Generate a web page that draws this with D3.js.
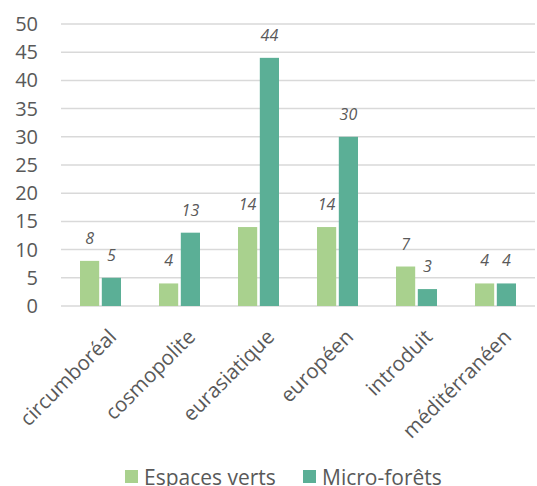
<!DOCTYPE html>
<html>
<head>
<meta charset="utf-8">
<script src="https://cdn.jsdelivr.net/npm/d3@7"></script>
<style>
  body { margin: 0; background: #fff; }
  svg { display: block; font-family: "Open Sans", sans-serif; }
</style>
</head>
<body>
<svg id="chart"></svg>
<script>
// data
const categories = ["circumboréal", "cosmopolite", "eurasiatique", "européen", "introduit", "méditérranéen"];
const seriesNames = ["Espaces verts", "Micro-forêts"];
const espacesVerts = [8, 4, 14, 14, 7, 4];
const microForets = [5, 13, 44, 30, 3, 4];
const yTicks = [0, 5, 10, 15, 20, 25, 30, 35, 40, 45, 50];
const colors = ["#a9d18e", "#5baf96"];

const W = 537, H = 486;
const margin = { top: 24, right: 2, bottom: 180, left: 61 };
const width = W - margin.left - margin.right,
    height = H - margin.top - margin.bottom;

const svg = d3.select("#chart")
    .attr("width", W)
    .attr("height", H);

const g = svg.append("g")
    .attr("transform", `translate(${margin.left},${margin.top})`);

const x = d3.scaleBand()
    .domain(categories)
    .range([0, width]);

const x1 = d3.scaleBand()
    .domain(seriesNames)
    .range([x.bandwidth() / 2 - 20.5, x.bandwidth() / 2 + 20.5])
    .paddingInner(0.12);

const y = d3.scaleLinear()
    .domain([0, 50])
    .range([height, 0]);

// gridlines
g.append("g")
    .selectAll("line")
    .data(yTicks)
    .join("line")
    .attr("x1", 0)
    .attr("x2", width)
    .attr("y1", d => y(d))
    .attr("y2", d => y(d))
    .attr("stroke", "#d9d9d9")
    .attr("stroke-width", 1.5);

// y axis labels
const yAxis = g.append("g")
    .call(d3.axisLeft(y).tickValues(yTicks).tickSize(0).tickPadding(23));
yAxis.select(".domain").remove();
yAxis.selectAll("text")
    .attr("fill", "#595959")
    .style("font-size", "20px")
    .style("font-family", "'Open Sans', sans-serif");

// bars
const rows = categories.map((c, i) => ({ cat: c, values: [espacesVerts[i], microForets[i]] }));

const groups = g.selectAll(".grp")
    .data(rows)
    .join("g")
    .attr("class", "grp")
    .attr("transform", d => `translate(${x(d.cat)},0)`);

groups.selectAll("rect")
    .data(d => d.values.map((v, j) => ({ name: seriesNames[j], v: v, j: j })))
    .join("rect")
    .attr("x", d => x1(d.name))
    .attr("y", d => y(d.v))
    .attr("width", x1.bandwidth())
    .attr("height", d => y(0) - y(d.v))
    .attr("fill", d => colors[d.j]);

groups.selectAll("text.val")
    .data(d => d.values.map((v, j) => ({ name: seriesNames[j], v: v, j: j })))
    .join("text")
    .attr("class", "val")
    .attr("x", d => x1(d.name) + x1.bandwidth() / 2)
    .attr("y", d => y(d.v) - 17)
    .attr("text-anchor", "middle")
    .attr("fill", "#595959")
    .style("font-size", "16px")
    .style("font-style", "italic")
    .text(d => d.v);

// category labels
g.append("g")
    .selectAll("text")
    .data(categories)
    .join("text")
    .attr("transform", d => `translate(${x(d) + x.bandwidth() / 2 + 7},${height + 22}) rotate(-45)`)
    .attr("text-anchor", "end")
    .attr("dy", "0.7em")
    .attr("fill", "#595959")
    .style("font-size", "20.5px")
    .text(d => d);

// legend
const legend = svg.append("g");
const legendX = [125, 303];
seriesNames.forEach((name, i) => {
    legend.append("rect")
        .attr("x", legendX[i])
        .attr("y", 470)
        .attr("width", 13)
        .attr("height", 13)
        .attr("fill", colors[i]);
    legend.append("text")
        .attr("x", legendX[i] + 19)
        .attr("y", 485)
        .attr("fill", "#595959")
        .style("font-size", "21px")
        .text(name);
});
</script>
</body>
</html>
